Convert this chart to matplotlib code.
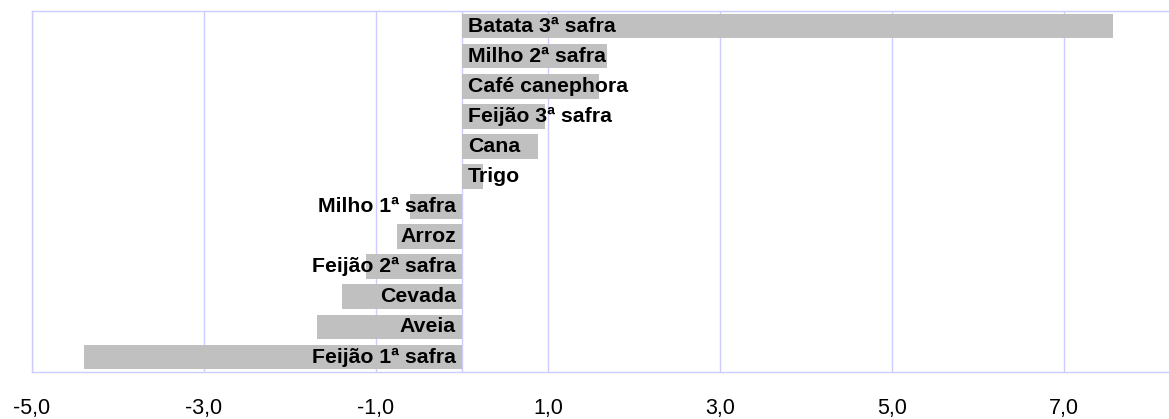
import numpy as np
import matplotlib.pyplot as plt
from matplotlib.ticker import FixedLocator, FuncFormatter

plt.rcParams['font.family'] = ['Liberation Sans', 'DejaVu Sans']

culturas = ['Batata 3ª safra', 'Milho 2ª safra', 'Café canephora', 'Feijão 3ª safra',
            'Cana', 'Trigo', 'Milho 1ª safra', 'Arroz', 'Feijão 2ª safra',
            'Cevada', 'Aveia', 'Feijão 1ª safra']
variacao = [7.57, 1.69, 1.59, 0.97, 0.89, 0.25, -0.60, -0.75, -1.11, -1.40, -1.69, -4.40]
ticks = [-5, -3, -1, 1, 3, 5, 7]

lilas = '#ccccff'

fig = plt.figure(figsize=(11.69, 4.19), dpi=100)
ax = fig.add_axes([32/1169, 1 - 372/419, 1 - 32/1169 + 0.002, (372 - 11)/419])

y = np.arange(len(culturas))
ax.barh(y, variacao, height=0.82, color='#c0c0c0', zorder=2)

ax.set_xlim(-5, 8.25)
ax.set_ylim(len(culturas) - 0.5, -0.5)

ax.xaxis.set_major_locator(FixedLocator(ticks))
ax.xaxis.set_major_formatter(FuncFormatter(lambda v, p: ('%.1f' % v).replace('.', ',')))
ax.tick_params(axis='x', length=0, pad=19, labelsize=15.5)
ax.set_yticks([])
ax.grid(axis='x', color=lilas, lw=1, zorder=1)
ax.axvline(0, color=lilas, lw=1, zorder=1)
for s in ax.spines.values():
    s.set_color(lilas)
    s.set_linewidth(1)

dx = 0.07
for i, (nome, v) in enumerate(zip(culturas, variacao)):
    if v >= 0:
        ax.text(dx, i, nome, ha='left', va='center', fontsize=15.3,
                fontweight='bold', zorder=3)
    else:
        ax.text(-dx, i, nome, ha='right', va='center', fontsize=15.3,
                fontweight='bold', zorder=3)

fig.savefig('out.png', dpi=100)
